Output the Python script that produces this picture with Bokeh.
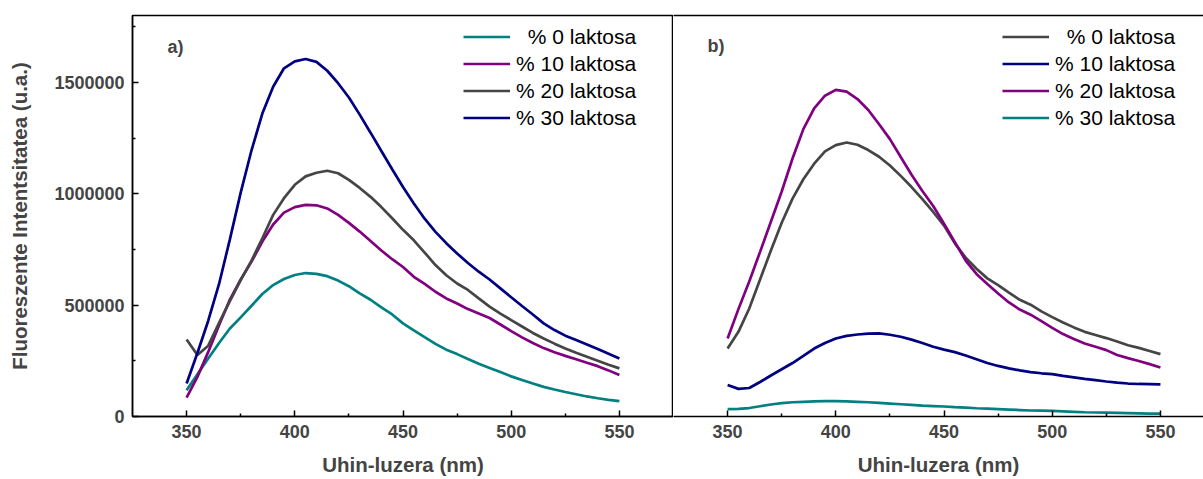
from bokeh.plotting import figure
from bokeh.models import (Range1d, FixedTicker, BasicTickFormatter, Legend, LegendItem,
                          Label, LinearAxis)
from bokeh.layouts import row
from bokeh.embed import file_html
from bokeh.resources import INLINE

# ---------------- data ----------------
wavelength = [350, 355, 360, 365, 370, 375, 380, 385, 390, 395, 400, 405, 410, 415, 420,
              425, 430, 435, 440, 445, 450, 455, 460, 465, 470, 475, 480, 485, 490, 495,
              500, 505, 510, 515, 520, 525, 530, 535, 540, 545, 550]

# panel a)
a_lak0 = [118000, 190000, 260000, 330000, 395000, 445000, 497000, 550000, 590000, 617000,
          635000, 644000, 640000, 630000, 610000, 585000, 553000, 524000, 490000, 458000,
          418000, 387000, 356000, 326000, 300000, 280000, 258000, 237000, 218000, 200000,
          180000, 164000, 148000, 133000, 121000, 110000, 100000, 90000, 82000, 75000, 69000]
a_lak10 = [85000, 178000, 290000, 410000, 525000, 615000, 695000, 785000, 862000, 915000,
           940000, 950000, 948000, 934000, 905000, 869000, 830000, 788000, 745000, 706000,
           671000, 627000, 595000, 560000, 530000, 507000, 482000, 462000, 442000, 413000,
           383000, 355000, 330000, 307000, 288000, 272000, 257000, 241000, 226000, 207000, 186000]
a_lak20 = [346000, 276000, 318000, 420000, 518000, 612000, 700000, 800000, 905000, 980000,
           1040000, 1078000, 1094000, 1103000, 1092000, 1062000, 1026000, 986000, 940000, 890000,
           838000, 791000, 736000, 680000, 634000, 597000, 568000, 530000, 493000, 462000,
           433000, 404000, 375000, 350000, 327000, 305000, 286000, 268000, 250000, 232000, 216000]
a_lak30 = [148000, 285000, 430000, 595000, 795000, 1005000, 1195000, 1360000, 1480000, 1563000,
           1594000, 1605000, 1592000, 1552000, 1496000, 1432000, 1355000, 1274000, 1192000, 1110000,
           1030000, 956000, 888000, 829000, 778000, 732000, 689000, 650000, 615000, 575000,
           535000, 496000, 458000, 418000, 388000, 363000, 343000, 323000, 303000, 282000, 260000]

# panel b)
b_lak0 = [305000, 380000, 485000, 615000, 745000, 870000, 978000, 1065000, 1135000, 1190000,
          1218000, 1230000, 1220000, 1196000, 1166000, 1127000, 1080000, 1030000, 976000, 918000,
          857000, 777000, 713000, 663000, 620000, 590000, 556000, 524000, 502000, 472000,
          446000, 422000, 400000, 380000, 366000, 352000, 337000, 320000, 308000, 294000, 280000]
b_lak10 = [141000, 124000, 128000, 155000, 184000, 212000, 240000, 272000, 305000, 330000,
           350000, 362000, 368000, 372000, 373000, 367000, 358000, 345000, 330000, 313000,
           300000, 289000, 274000, 257000, 240000, 227000, 216000, 207000, 199000, 194000,
           190000, 182000, 176000, 169000, 163000, 157000, 152000, 148000, 146000, 145000, 144000]
b_lak20 = [350000, 482000, 606000, 739000, 874000, 1010000, 1158000, 1290000, 1383000, 1440000,
           1466000, 1458000, 1425000, 1376000, 1312000, 1245000, 1165000, 1085000, 1012000, 945000,
           865000, 783000, 700000, 640000, 595000, 552000, 512000, 480000, 457000, 428000,
           398000, 370000, 348000, 328000, 313000, 298000, 276000, 262000, 249000, 235000, 220000]
b_lak30 = [33000, 34000, 38000, 46000, 54000, 60000, 64000, 66000, 68000, 69000,
           69000, 68000, 66000, 64000, 61000, 58000, 55000, 52000, 49000, 47000,
           45000, 42000, 40000, 37000, 35000, 33000, 31000, 29000, 27000, 26000,
           25000, 23000, 21000, 19000, 18000, 17000, 16000, 15000, 14000, 13000, 13000]

labels = ["% 0 laktosa", "% 10 laktosa", "% 20 laktosa", "% 30 laktosa"]
x_major = [350, 400, 450, 500, 550]
x_minor = [375, 425, 475, 525]
y_major = [0, 500000, 1000000, 1500000]
y_minor = [250000, 750000, 1250000, 1750000]

TEAL, PURPLE, GREY, NAVY = "#008080", "#800080", "#454545", "#000080"
FONT = "Liberation Sans"

y_range = Range1d(0, 1800000)


def style_xaxis(ax):
    ax.ticker = FixedTicker(ticks=x_major, minor_ticks=x_minor)
    ax.axis_label = "Uhin-luzera (nm)"
    ax.axis_label_text_font = FONT
    ax.axis_label_text_font_style = "bold"
    ax.axis_label_text_font_size = "20.5px"
    ax.axis_label_standoff = 12
    ax.major_label_text_font = FONT
    ax.major_label_text_font_style = "bold"
    ax.major_label_text_font_size = "18px"
    ax.major_label_standoff = 8
    ax.major_tick_in = 6
    ax.major_tick_out = 0
    ax.minor_tick_in = 3
    ax.minor_tick_out = 0
    ax.axis_line_width = 1.5
    ax.major_tick_line_width = 1.5
    ax.minor_tick_line_width = 1.5
    ax.axis_line_color = "black"


def make_legend(items, vx):
    lg = Legend(items=items, location=(vx, 285), orientation="vertical")
    lg.padding = 0
    lg.spacing = 0
    lg.margin = 0
    lg.border_line_color = None
    lg.background_fill_alpha = 0
    lg.label_text_font = FONT
    lg.label_text_font_size = "21px"
    lg.label_text_color = "black"
    lg.label_height = 27
    lg.glyph_height = 27
    lg.glyph_width = 47
    lg.label_standoff = 6
    return lg


# ---------------- panel a ----------------
p1 = figure(width=673, height=479, x_range=Range1d(325, 575), y_range=y_range,
            output_backend="svg", toolbar_location=None,
            min_border_left=132, min_border_right=0, min_border_top=15, min_border_bottom=63)
p1.xgrid.visible = False
p1.ygrid.visible = False
p1.outline_line_color = "black"
p1.outline_line_width = 1.5
p1.outline_line_alpha = 1
style_xaxis(p1.xaxis[0])
ya = p1.yaxis[0]
ya.ticker = FixedTicker(ticks=y_major, minor_ticks=y_minor)
ya.formatter = BasicTickFormatter(use_scientific=False)
ya.axis_label = "Fluoreszente Intentsitatea (u.a.)"
ya.axis_label_text_font = FONT
ya.axis_label_text_font_style = "bold"
ya.axis_label_text_font_size = "20.5px"
ya.axis_label_standoff = 20
ya.major_label_text_font = FONT
ya.major_label_text_font_style = "bold"
ya.major_label_text_font_size = "18px"
ya.major_label_standoff = 8
ya.major_tick_in = 6
ya.major_tick_out = 0
ya.minor_tick_in = 3
ya.minor_tick_out = 0
ya.axis_line_width = 1.5
ya.major_tick_line_width = 1.5
ya.minor_tick_line_width = 1.5

ra0 = p1.line(wavelength, a_lak0, line_color=TEAL, line_width=2.7)
ra10 = p1.line(wavelength, a_lak10, line_color=PURPLE, line_width=2.7)
ra20 = p1.line(wavelength, a_lak20, line_color=GREY, line_width=2.7)
ra30 = p1.line(wavelength, a_lak30, line_color=NAVY, line_width=2.7)

pad0 = "\u00a0\u00a0"
leg1 = make_legend([
    LegendItem(label=pad0 + labels[0], renderers=[ra0]),
    LegendItem(label=labels[1], renderers=[ra10]),
    LegendItem(label=labels[2], renderers=[ra20]),
    LegendItem(label=labels[3], renderers=[ra30]),
], 331)
p1.add_layout(leg1, "center")
p1.add_layout(Label(x=35, y=370, x_units="screen", y_units="screen", text="a)",
                    text_font=FONT, text_font_style="bold", text_font_size="18px",
                    text_baseline="middle"))

# ---------------- panel b ----------------
p2 = figure(width=530, height=479, x_range=Range1d(325, 569.9), y_range=y_range,
            output_backend="svg", toolbar_location=None, y_axis_location=None,
            min_border_left=0, min_border_right=0, min_border_top=15, min_border_bottom=63)
p2.xgrid.visible = False
p2.ygrid.visible = False
p2.outline_line_color = None
style_xaxis(p2.xaxis[0])
top_ax = LinearAxis(ticker=FixedTicker(ticks=[]), major_label_text_font_size="0px",
                    major_tick_line_color=None, minor_tick_line_color=None,
                    axis_line_width=1.5, axis_line_color="black")
p2.add_layout(top_ax, "above")

rb0 = p2.line(wavelength, b_lak0, line_color=GREY, line_width=2.7)
rb10 = p2.line(wavelength, b_lak10, line_color=NAVY, line_width=2.7)
rb20 = p2.line(wavelength, b_lak20, line_color=PURPLE, line_width=2.7)
rb30 = p2.line(wavelength, b_lak30, line_color=TEAL, line_width=2.7)

leg2 = make_legend([
    LegendItem(label=pad0 + labels[0], renderers=[rb0]),
    LegendItem(label=labels[1], renderers=[rb10]),
    LegendItem(label=labels[2], renderers=[rb20]),
    LegendItem(label=labels[3], renderers=[rb30]),
], 329)
p2.add_layout(leg2, "center")
p2.add_layout(Label(x=34, y=371, x_units="screen", y_units="screen", text="b)",
                    text_font=FONT, text_font_style="bold", text_font_size="18px",
                    text_baseline="middle"))

layout = row(p1, p2)
open("out.html", "w").write(file_html(layout, INLINE))
